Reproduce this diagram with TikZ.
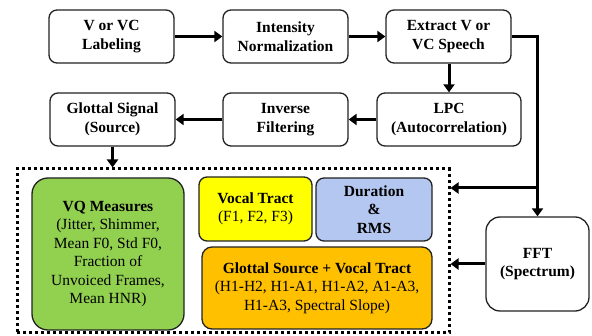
\documentclass[tikz,border=0pt]{standalone}
\usepackage{fontspec}
\setmainfont{Liberation Serif}
\usepackage{xcolor}
\usetikzlibrary{arrows.meta,calc,positioning}
\definecolor{vqgreen}{HTML}{92D050}
\definecolor{vtyellow}{HTML}{FFFF00}
\definecolor{durblue}{HTML}{B4C7F0}
\definecolor{gsorange}{HTML}{FFC000}
\definecolor{edge}{HTML}{222222}

\begin{document}
\begin{tikzpicture}[x=1pt,y=-1pt,
  box/.style={draw=edge,line width=1.3pt,rounded corners=8pt,align=center,inner sep=0pt,
    font=\fontsize{15.5}{18.5}\selectfont\bfseries},
  meas/.style={draw=edge,line width=1.3pt,align=center,inner sep=0pt,
    font=\fontsize{15.5}{18.5}\selectfont},
  flow/.style={line width=3pt,-{Triangle[length=8pt,width=11pt]}}]
\useasboundingbox (0,0) rectangle (592,336);
% processing chain
\node[box,minimum width=125pt,minimum height=53pt] (lab) at (111.5,36.5) {V or VC\\Labeling};
\node[box,minimum width=125pt,minimum height=53pt] (norm) at (285.5,36.5) {Intensity\\Normalization};
\node[box,minimum width=125pt,minimum height=53pt] (extr) at (448.5,36.5) {Extract V or\\VC Speech};
\node[box,minimum width=144pt,minimum height=53pt] (lpc) at (449,119.5) {LPC\\(Autocorrelation)};
\node[box,minimum width=125pt,minimum height=53pt] (inv) at (285.5,119.5) {Inverse\\Filtering};
\node[box,minimum width=125pt,minimum height=53pt] (glot) at (112.5,119.5) {Glottal Signal\\(Source)};
\node[box,minimum width=103pt,minimum height=94pt,rounded corners=14pt] (fft) at (537.5,264) {FFT\\(Spectrum)};
% measures
\node[draw=black,line width=3pt,dash pattern=on 3pt off 3pt,minimum width=432pt,minimum height=164pt,inner sep=0pt] (group) at (233,251) {};
\node[meas,fill=vqgreen,minimum width=152pt,minimum height=152pt,rounded corners=16pt] (vq) at (108,254)
  {\textbf{VQ Measures}\\(Jitter, Shimmer,\\Mean F0, Std F0,\\Fraction of\\Unvoiced Frames,\\Mean HNR)};
\node[meas,fill=vtyellow,minimum width=113pt,minimum height=64pt,rounded corners=8pt] (vt) at (255.5,209)
  {\textbf{Vocal Tract}\\(F1, F2, F3)};
\node[box,fill=durblue,minimum width=116pt,minimum height=63pt] (dur) at (374,209.5)
  {Duration\\\&\\RMS};
\node[meas,fill=gsorange,minimum width=230pt,minimum height=82pt,rounded corners=10pt] (gs) at (317,288)
  {\textbf{Glottal Source + Vocal Tract}\\(H1-H2, H1-A1, H1-A2, A1-A3,\\H1-A3, Spectral Slope)};
% connectors
\draw[flow] (lab) -- (norm);
\draw[flow] (norm) -- (extr);
\draw[flow] (extr.south -| lpc.north) -- (lpc.north);
\draw[flow] (lpc) -- (inv);
\draw[flow] (inv) -- (glot);
\draw[flow] (glot.south) -- (glot.south |- group.north);
\draw[flow] (extr.east) -| (fft.north);
\coordinate (tap) at (fft.north |- 0,188);
\draw[flow] (tap) -- (tap -| group.east);
\draw[flow] (fft.west) -- (fft.west -| group.east);
\end{tikzpicture}
\end{document}
